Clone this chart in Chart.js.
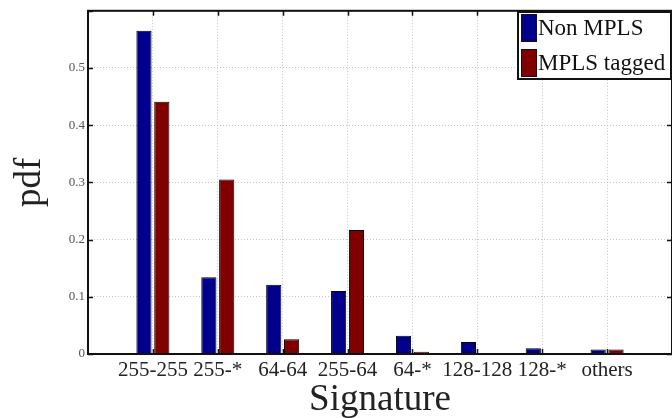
<!DOCTYPE html>
<html>
<head>
<meta charset="utf-8">
<script src="https://cdn.jsdelivr.net/npm/chart.js@4/dist/chart.umd.min.js"></script>
<style>
  html, body { margin: 0; padding: 0; background: #fff; overflow: hidden; }
  /* a bit wider than the window: the right frame sits just past the edge */
  #wrap { width: 676px; height: 418px; }
</style>
</head>
<body>
<div id="wrap"><canvas id="chart-pdf"></canvas></div>
<script>
const SIGNATURES = ["255-255", "255-*", "64-64", "255-64", "64-*", "128-128", "128-*", "others"];
const NON_MPLS = [0.565, 0.134, 0.121, 0.110, 0.032, 0.021, 0.010, 0.008];
const MPLS_TAGGED = [0.441, 0.305, 0.026, 0.217, 0.004, 0, 0, 0.008];
const Y_TICKS = [0, 0.1, 0.2, 0.3, 0.4, 0.5, 0.6];

const SERIF = "'Liberation Serif', 'DejaVu Serif', serif";

// empty slots on each side so the categories sit one step in from the frame
const labels = ["", ...SIGNATURES, ""];
const pad = (arr) => [null, ...arr, null];

const frameAndLegend = {
  id: "frameAndLegend",
  afterDraw(chart) {
    const { ctx, chartArea: a, scales } = chart;
    ctx.save();
    ctx.strokeStyle = "#111";
    ctx.lineWidth = 2;
    ctx.strokeRect(a.left, a.top, a.right - a.left, a.bottom - a.top);

    // small inward tick marks, matlab style
    ctx.lineWidth = 1.5;
    ctx.beginPath();
    scales.y.ticks.forEach((t) => {
      const py = Math.round(scales.y.getPixelForValue(t.value)) + 0.5;
      ctx.moveTo(a.left, py); ctx.lineTo(a.left + 5, py);
      ctx.moveTo(a.right, py); ctx.lineTo(a.right - 5, py);
    });
    SIGNATURES.forEach((_, i) => {
      const px = Math.round(scales.x.getPixelForValue(i + 1)) + 0.5;
      ctx.moveTo(px, a.top); ctx.lineTo(px, a.top + 5);
      ctx.moveTo(px, a.bottom); ctx.lineTo(px, a.bottom - 5);
    });
    ctx.stroke();

    // legend box, upper right
    const x = 518, y = 12, w = 153, h = 67;
    ctx.lineWidth = 2;
    ctx.fillStyle = "#fff";
    ctx.fillRect(x, y, w, h);
    ctx.strokeRect(x, y, w, h);
    ctx.font = "23px " + SERIF;
    ctx.textBaseline = "middle";
    chart.data.datasets.forEach((ds, i) => {
      const sy = y + 2 + i * 35;
      ctx.fillStyle = ds.backgroundColor;
      ctx.fillRect(x + 3, sy, 16, 28);
      ctx.lineWidth = 1;
      ctx.strokeRect(x + 3.5, sy + 0.5, 15, 27);
      ctx.fillStyle = "#111";
      ctx.fillText(ds.label, x + 20, sy + 15);
    });
    ctx.restore();
  },
};

new Chart(document.getElementById("chart-pdf"), {
  type: "bar",
  data: {
    labels,
    datasets: [
      { label: "Non MPLS", data: pad(NON_MPLS), backgroundColor: "#00008c", borderColor: "#000", borderWidth: 1 },
      { label: "MPLS tagged", data: pad(MPLS_TAGGED), backgroundColor: "#800000", borderColor: "#000", borderWidth: 1 },
    ],
  },
  options: {
    responsive: true,
    maintainAspectRatio: false,
    animation: false,
    categoryPercentage: 0.55,
    barPercentage: 0.85,
    layout: { padding: { top: 5, right: 0, left: 0, bottom: 0 } },
    scales: {
      x: {
        offset: false,
        grid: { offset: false, color: "#c4c4c4", drawTicks: false },
        border: { display: false, dash: [1, 2] },
        ticks: { color: "#222", font: { family: SERIF, size: 21 }, padding: 4, maxRotation: 0, autoSkip: false },
        title: { display: true, text: "Signature", color: "#222", font: { family: SERIF, size: 37 }, padding: { top: 0, bottom: -4 } },
        afterFit: (s) => { s.height = 64; },
      },
      y: {
        min: 0,
        max: 0.6,
        afterBuildTicks: (s) => { s.ticks = Y_TICKS.map((v) => ({ value: v })); },
        grid: { color: "#c4c4c4", drawTicks: false },
        border: { display: false, dash: [1, 2] },
        ticks: {
          color: "#555",
          font: { family: SERIF, size: 13 },
          padding: 3,
          callback: (v) => (v >= 0.6 ? "" : String(+v.toFixed(1))),
        },
        title: { display: true, text: "pdf", color: "#222", font: { family: SERIF, size: 37 }, padding: { top: 8 } },
        afterFit: (s) => { s.width = 88; },
      },
    },
    plugins: {
      legend: { display: false },
      tooltip: { enabled: false },
    },
  },
  plugins: [frameAndLegend],
});
</script>
</body>
</html>
